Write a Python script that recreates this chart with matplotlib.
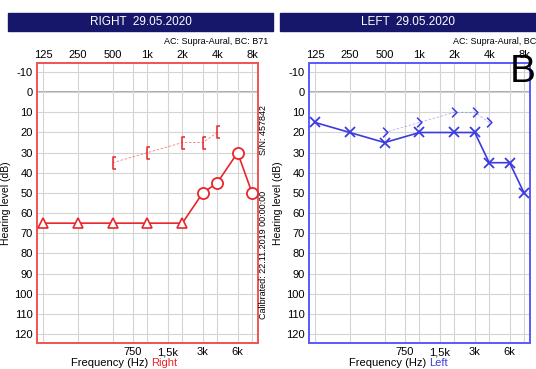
import numpy as np
import matplotlib
matplotlib.use("Agg")
import matplotlib.pyplot as plt
from matplotlib.path import Path
from matplotlib.patches import Rectangle

plt.rcParams['font.family'] = ['Liberation Sans', 'DejaVu Sans']

# frequencies (Hz)
octave_freqs = [125, 250, 500, 1000, 2000, 4000, 8000]
octave_labels = ['125', '250', '500', '1k', '2k', '4k', '8k']
mid_freqs = [750, 1500, 3000, 6000]
mid_labels = ['750', '1,5k', '3k', '6k']
db_ticks = list(range(-10, 121, 10))

# right ear, air conduction (triangles = no response / masked, circles = AC)
right_tri_f = [125, 250, 500, 1000, 2000]
right_tri_db = [65, 65, 65, 65, 65]
right_circ_f = [3000, 4000, 6000, 8000]
right_circ_db = [50, 45, 30, 50]
# right ear, bone conduction
right_bc_f = [500, 1000, 2000, 3000, 4000]
right_bc_db = [35, 30, 25, 25, 20]

# left ear, air conduction
left_ac_f = [125, 250, 500, 1000, 2000, 3000, 4000, 6000, 8000]
left_ac_db = [15, 20, 25, 20, 20, 20, 35, 35, 50]
# left ear, bone conduction
left_bc_f = [500, 1000, 2000, 3000, 4000]
left_bc_db = [20, 15, 10, 10, 15]

RED = '#e8262c'
BLUE = '#3b3be0'
NAVY = '#16166a'

bracket = Path([(0.45, 1), (0, 1), (0, -1), (0.45, -1)],
               [Path.MOVETO, Path.LINETO, Path.LINETO, Path.LINETO])
chevron = Path([(-0.5, 1), (0.5, 0), (-0.5, -1)],
               [Path.MOVETO, Path.LINETO, Path.LINETO])

fig = plt.figure(figsize=(5.36, 3.69), dpi=100)
W, H = 536, 369


def px_axes(x0, x1, y0, y1):
    return fig.add_axes([x0 / W, 1 - y1 / H, (x1 - x0) / W, (y1 - y0) / H])


def setup(ax, color):
    ax.set_xscale('log', base=2)
    ax.set_xlim(125 * 2 ** -0.17, 8000 * 2 ** 0.17)
    ax.set_ylim(124.5, -14.5)
    allf = sorted(octave_freqs + mid_freqs)
    ax.set_xticks(allf)
    ax.set_xticks([], minor=True)
    ax.set_xticklabels([mid_labels[mid_freqs.index(f)] if f in mid_freqs else '' for f in allf],
                       fontsize=8)
    ax.set_yticks(db_ticks)
    ax.set_yticklabels([str(v) for v in db_ticks], fontsize=8)
    ax.tick_params(axis='x', length=0, pad=3)
    ax.tick_params(axis='y', length=0, pad=3)
    ax.grid(True, color='#d4d4d4', lw=0.8)
    ax.axhline(0, color='#9a9a9a', lw=1.2, zorder=1)
    for s in ax.spines.values():
        s.set_color(color)
        s.set_linewidth(1.4)
    top = ax.secondary_xaxis('top')
    top.set_xticks(octave_freqs)
    top.set_xticks([], minor=True)
    top.set_xticklabels(octave_labels, fontsize=8)
    top.tick_params(length=0, pad=2)
    top.spines['top'].set_visible(False)
    ax.set_ylabel('Hearing level (dB)', fontsize=7.5, labelpad=2)


# ---- RIGHT ----
axr = px_axes(37, 258, 63, 343)
setup(axr, '#f05454')
axr.plot(right_bc_f, right_bc_db, color=RED, lw=0.6, ls=(0, (3, 2)), alpha=0.6, zorder=2)
axr.plot(right_bc_f, right_bc_db, ls='none', marker=bracket, ms=8, mec=RED, mfc='none',
         mew=1.1, zorder=3)
axr.plot(right_tri_f + right_circ_f, right_tri_db + right_circ_db, color=RED, lw=1.2, zorder=2)
axr.plot(right_tri_f, right_tri_db, ls='none', marker='^', ms=7, mfc='white', mec=RED,
         mew=1.2, zorder=3)
axr.plot(right_circ_f, right_circ_db, ls='none', marker='o', ms=8, mfc='white', mec=RED,
         mew=1.3, zorder=3)

# ---- LEFT ----
axl = px_axes(309, 530, 63, 343)
setup(axl, '#5a5aff')
axl.plot(left_bc_f, left_bc_db, color=BLUE, lw=0.6, ls=(0, (3, 2)), alpha=0.4, zorder=2)
axl.plot(left_bc_f, left_bc_db, ls='none', marker=chevron, ms=7, mec=BLUE, mfc='none',
         mew=1.1, zorder=3)
axl.plot(left_ac_f, left_ac_db, color=BLUE, lw=1.2, zorder=2)
axl.plot(left_ac_f, left_ac_db, ls='none', marker='x', ms=7, mec=BLUE, mew=1.3, zorder=3)

# title bars
for x0, x1, txt in [(8, 273, 'RIGHT  29.05.2020'), (280, 536, 'LEFT  29.05.2020')]:
    fig.patches.append(Rectangle((x0 / W, 1 - 31 / H), (x1 - x0) / W, 18 / H,
                                 transform=fig.transFigure, color=NAVY))
    fig.text((x0 + x1) / 2 / W, 1 - 22 / H, txt, color='white', fontsize=8.5,
             ha='center', va='center')

fig.text(268 / W, 1 - 42 / H, 'AC: Supra-Aural, BC: B71', fontsize=6.5, ha='right', va='center')
fig.text(453 / W, 1 - 42 / H, 'AC: Supra-Aural, BC: B7', fontsize=6.5, ha='left', va='center')

fig.text(264 / W, 1 - 130 / H, 'S/N: 457842', fontsize=6.5, rotation=90, ha='center', va='center')
fig.text(264 / W, 1 - 255 / H, 'Calibrated: 22.11.2019 00:00:00', fontsize=6.5, rotation=90,
         ha='center', va='center')

# x labels
fig.text(151 / W, 1 - 363 / H, 'Frequency (Hz) ', fontsize=8, ha='right', va='center')
fig.text(151 / W, 1 - 363 / H, 'Right', fontsize=8, color=RED, ha='left', va='center')
fig.text(429 / W, 1 - 363 / H, 'Frequency (Hz) ', fontsize=8, ha='right', va='center')
fig.text(429 / W, 1 - 363 / H, 'Left', fontsize=8, color=BLUE, ha='left', va='center')

fig.text(523 / W, 1 - 72 / H, 'B', fontsize=28, ha='center', va='center', color='black')

fig.savefig('out.png', dpi=100)
